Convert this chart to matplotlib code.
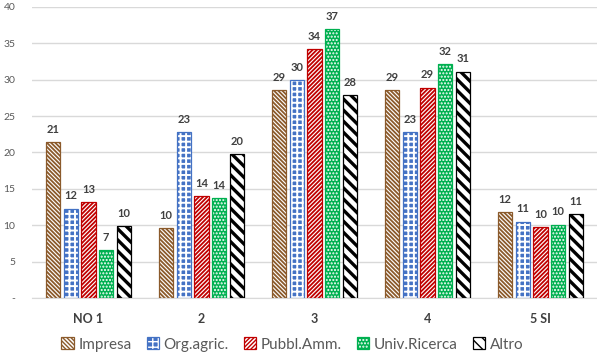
import numpy as np
import matplotlib
matplotlib.use("Agg")
import matplotlib.pyplot as plt
from matplotlib.patches import Patch

## dati
categorie = ['NO 1', '2', '3', '4', '5 SI']
serie = ['Impresa', 'Org.agric.', 'Pubbl.Amm.', 'Univ.Ricerca', 'Altro']
impresa = [21.4, 9.6, 28.6, 28.6, 11.8]
org_agric = [12.3, 22.8, 29.9, 22.8, 10.5]
pubbl_amm = [13.2, 14.0, 34.2, 28.9, 9.7]
univ_ricerca = [6.6, 13.7, 36.9, 32.1, 10.1]
altro = [9.9, 19.8, 27.9, 31.1, 11.5]
etichette = [
    ['21', '10', '29', '29', '12'],
    ['12', '23', '30', '23', '11'],
    ['13', '14', '34', '29', '10'],
    ['7', '14', '37', '32', '10'],
    ['10', '20', '28', '31', '11'],
]
valori = [impresa, org_agric, pubbl_amm, univ_ricerca, altro]

## stili: (colore fondo, colore tratteggio, tratteggio, spessore, bordo)
stili = [
    ('white', '#8B5A2B', '\\' * 8, 1.3, '#8B5A2B'),
    ('#4472C4', 'white', '+' * 3, 1.4, '#4472C4'),
    ('white', '#C00000', '/' * 8, 1.3, '#C00000'),
    ('#00B050', 'white', '.' * 5, 1.0, '#00B050'),
    ('white', 'black', '\\' * 3, 2.4, 'black'),
]

plt.rcParams['font.family'] = ['Lato', 'DejaVu Sans']
fig = plt.figure(figsize=(5.97, 3.6), dpi=100)
ax = fig.add_axes([0.0536, 0.172, 0.9464, 0.809])

x = np.arange(len(categorie))
w = 0.128
passo = 0.156
handles = []
for i, (nome, vals) in enumerate(zip(serie, valori)):
    fondo, col_tr, tr, lw, bordo = stili[i]
    pos = x + (i - 2) * passo
    with plt.rc_context({'hatch.linewidth': lw}):
        ax.bar(pos, vals, w, color=fondo, edgecolor=col_tr, hatch=tr,
               linewidth=0, zorder=2)
        h = Patch(facecolor=fondo, edgecolor=col_tr, hatch=tr, linewidth=0)
    bordo_h = Patch(facecolor='none', edgecolor=bordo, linewidth=0.9)
    handles.append((h, bordo_h))
    ax.bar(pos, vals, w, color='none', edgecolor=bordo, linewidth=0.9,
           zorder=3)
    for xp, v, t in zip(pos, vals, etichette[i]):
        ax.text(xp, v + 1.0, t, ha='center', va='bottom', fontsize=8,
                fontweight='bold', color='#404040')

ax.set_xlim(-0.5, 4.5)
ax.set_ylim(0, 40)
ax.set_yticks(range(0, 41, 5))
ax.set_yticklabels(['-'] + [str(v) for v in range(5, 41, 5)])
ax.set_xticks(x)
ax.set_xticklabels(categorie, fontsize=9, fontweight='bold',
                   color='#404040')
ax.tick_params(axis='y', length=0, labelsize=7.5, labelcolor='#595959',
               pad=12)
ax.tick_params(axis='x', length=0, pad=11)
ax.grid(axis='y', color='#D9D9D9', linewidth=1, zorder=0)
for s in ['top', 'right', 'left']:
    ax.spines[s].set_visible(False)
ax.spines['bottom'].set_color('#D9D9D9')

leg = fig.legend(handles, serie, loc='lower center', ncol=5,
                 bbox_to_anchor=(0.49, -0.015), frameon=False, fontsize=11,
                 handlelength=0.8, handleheight=0.8, handletextpad=0.3,
                 columnspacing=1.0)
for t in leg.get_texts():
    t.set_color('#595959')

fig.savefig('out.png', dpi=100)
